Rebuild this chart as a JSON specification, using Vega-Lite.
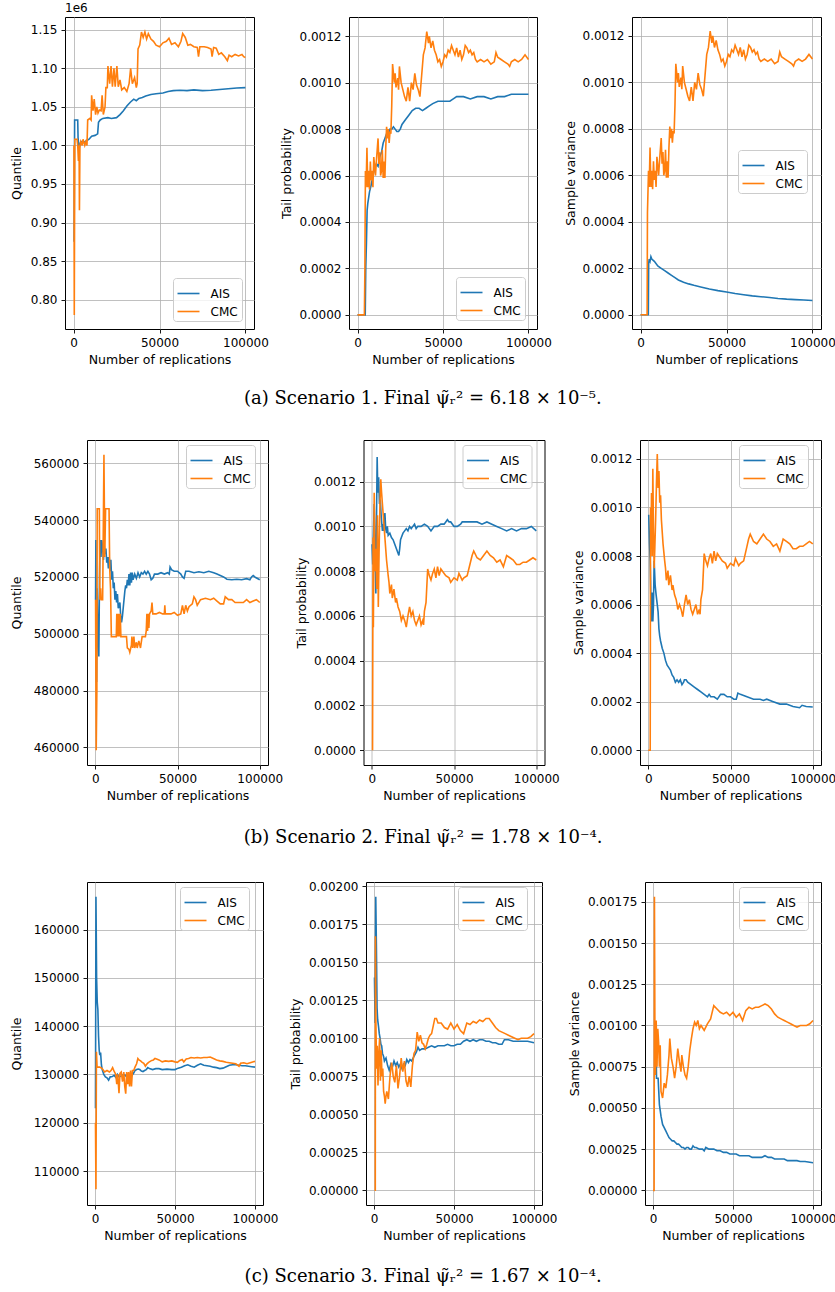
{
  "$schema": "https://vega.github.io/schema/vega-lite/v6.json",
  "background": "white",
  "padding": {"left": 10, "top": 1, "right": 0, "bottom": 2},
  "datasets": {
    "r1q": [
      {"m":"AIS","n":300,"v":875000},{"m":"AIS","n":600,"v":1033000},{"m":"AIS","n":2400,"v":1033000},{"m":"AIS","n":2600,"v":1010000},{"m":"AIS","n":3000,"v":1000000},{"m":"AIS","n":3400,"v":998000},{"m":"AIS","n":4200,"v":1005000},{"m":"AIS","n":6000,"v":1004000},{"m":"AIS","n":7500,"v":1006000},{"m":"AIS","n":9000,"v":1008000},{"m":"AIS","n":10500,"v":1012000},{"m":"AIS","n":12500,"v":1013000},{"m":"AIS","n":14000,"v":1015000},{"m":"AIS","n":14500,"v":1030000},{"m":"AIS","n":15500,"v":1033000},{"m":"AIS","n":17000,"v":1035000},{"m":"AIS","n":20000,"v":1036000},{"m":"AIS","n":22000,"v":1035000},{"m":"AIS","n":25000,"v":1036000},{"m":"AIS","n":27000,"v":1040000},{"m":"AIS","n":29000,"v":1045000},{"m":"AIS","n":31000,"v":1051000},{"m":"AIS","n":33000,"v":1056000},{"m":"AIS","n":35000,"v":1060000},{"m":"AIS","n":36500,"v":1058000},{"m":"AIS","n":38000,"v":1061000},{"m":"AIS","n":40000,"v":1062000},{"m":"AIS","n":42000,"v":1064000},{"m":"AIS","n":45000,"v":1066000},{"m":"AIS","n":48000,"v":1067000},{"m":"AIS","n":52000,"v":1068000},{"m":"AIS","n":55000,"v":1070000},{"m":"AIS","n":58000,"v":1071000},{"m":"AIS","n":62000,"v":1071500},{"m":"AIS","n":66000,"v":1071000},{"m":"AIS","n":70000,"v":1072000},{"m":"AIS","n":75000,"v":1071000},{"m":"AIS","n":80000,"v":1071500},{"m":"AIS","n":85000,"v":1072500},{"m":"AIS","n":90000,"v":1073500},{"m":"AIS","n":95000,"v":1074500},{"m":"AIS","n":100000,"v":1075000},
      {"m":"CMC","n":200,"v":1000000},{"m":"CMC","n":400,"v":780000},{"m":"CMC","n":700,"v":1008000},{"m":"CMC","n":2000,"v":1008000},{"m":"CMC","n":2400,"v":1000000},{"m":"CMC","n":2800,"v":980000},{"m":"CMC","n":3200,"v":1000000},{"m":"CMC","n":3400,"v":916000},{"m":"CMC","n":3700,"v":1000000},{"m":"CMC","n":4200,"v":1005000},{"m":"CMC","n":5000,"v":1000000},{"m":"CMC","n":5500,"v":1008000},{"m":"CMC","n":6500,"v":1000000},{"m":"CMC","n":7200,"v":1005000},{"m":"CMC","n":7800,"v":1000000},{"m":"CMC","n":8200,"v":1033000},{"m":"CMC","n":9500,"v":1035000},{"m":"CMC","n":10200,"v":1033000},{"m":"CMC","n":10500,"v":1065000},{"m":"CMC","n":11300,"v":1045000},{"m":"CMC","n":12000,"v":1060000},{"m":"CMC","n":12800,"v":1040000},{"m":"CMC","n":13500,"v":1050000},{"m":"CMC","n":14200,"v":1042000},{"m":"CMC","n":15000,"v":1046000},{"m":"CMC","n":16000,"v":1045000},{"m":"CMC","n":16600,"v":1065000},{"m":"CMC","n":17300,"v":1040000},{"m":"CMC","n":18300,"v":1050000},{"m":"CMC","n":18800,"v":1075000},{"m":"CMC","n":19600,"v":1075000},{"m":"CMC","n":20000,"v":1103000},{"m":"CMC","n":21000,"v":1080000},{"m":"CMC","n":21800,"v":1103000},{"m":"CMC","n":22600,"v":1076000},{"m":"CMC","n":23500,"v":1100000},{"m":"CMC","n":24200,"v":1076000},{"m":"CMC","n":25200,"v":1103000},{"m":"CMC","n":26000,"v":1076000},{"m":"CMC","n":27000,"v":1085000},{"m":"CMC","n":28000,"v":1072000},{"m":"CMC","n":29500,"v":1075000},{"m":"CMC","n":31000,"v":1070000},{"m":"CMC","n":32300,"v":1080000},{"m":"CMC","n":33200,"v":1100000},{"m":"CMC","n":34200,"v":1080000},{"m":"CMC","n":35500,"v":1088000},{"m":"CMC","n":36500,"v":1075000},{"m":"CMC","n":37000,"v":1080000},{"m":"CMC","n":37500,"v":1125000},{"m":"CMC","n":38500,"v":1130000},{"m":"CMC","n":39500,"v":1147000},{"m":"CMC","n":40500,"v":1140000},{"m":"CMC","n":41500,"v":1147000},{"m":"CMC","n":42500,"v":1138000},{"m":"CMC","n":43500,"v":1145000},{"m":"CMC","n":45000,"v":1138000},{"m":"CMC","n":46500,"v":1135000},{"m":"CMC","n":48000,"v":1130000},{"m":"CMC","n":50000,"v":1128000},{"m":"CMC","n":52000,"v":1133000},{"m":"CMC","n":54000,"v":1135000},{"m":"CMC","n":55500,"v":1139000},{"m":"CMC","n":57000,"v":1131000},{"m":"CMC","n":59000,"v":1133000},{"m":"CMC","n":61000,"v":1128000},{"m":"CMC","n":62500,"v":1135000},{"m":"CMC","n":63500,"v":1145000},{"m":"CMC","n":65000,"v":1140000},{"m":"CMC","n":66500,"v":1130000},{"m":"CMC","n":68000,"v":1131000},{"m":"CMC","n":70000,"v":1128000},{"m":"CMC","n":72000,"v":1127000},{"m":"CMC","n":72700,"v":1115000},{"m":"CMC","n":73500,"v":1128000},{"m":"CMC","n":76000,"v":1128000},{"m":"CMC","n":78000,"v":1127000},{"m":"CMC","n":80000,"v":1125000},{"m":"CMC","n":80600,"v":1115000},{"m":"CMC","n":81500,"v":1127000},{"m":"CMC","n":83000,"v":1126000},{"m":"CMC","n":84500,"v":1118000},{"m":"CMC","n":86000,"v":1120000},{"m":"CMC","n":88000,"v":1115000},{"m":"CMC","n":89500,"v":1110000},{"m":"CMC","n":90500,"v":1117000},{"m":"CMC","n":92000,"v":1115000},{"m":"CMC","n":94000,"v":1118000},{"m":"CMC","n":96000,"v":1116000},{"m":"CMC","n":98000,"v":1118000},{"m":"CMC","n":99000,"v":1115000},{"m":"CMC","n":100000,"v":1114000}
    ],
    "r1t": [
      {"m":"AIS","n":0,"v":0},{"m":"AIS","n":4500,"v":0},{"m":"AIS","n":4800,"v":0.0002},{"m":"AIS","n":5200,"v":0.00031},{"m":"AIS","n":5600,"v":0.00045},{"m":"AIS","n":6000,"v":0.00048},{"m":"AIS","n":7000,"v":0.00053},{"m":"AIS","n":8000,"v":0.00056},{"m":"AIS","n":9000,"v":0.0006},{"m":"AIS","n":10000,"v":0.00063},{"m":"AIS","n":11000,"v":0.00065},{"m":"AIS","n":12000,"v":0.00064},{"m":"AIS","n":13000,"v":0.00068},{"m":"AIS","n":14000,"v":0.0007},{"m":"AIS","n":15000,"v":0.00074},{"m":"AIS","n":16000,"v":0.00076},{"m":"AIS","n":17000,"v":0.00078},{"m":"AIS","n":18000,"v":0.00077},{"m":"AIS","n":19000,"v":0.0008},{"m":"AIS","n":20000,"v":0.0008},{"m":"AIS","n":21000,"v":0.00081},{"m":"AIS","n":22000,"v":0.0008},{"m":"AIS","n":23000,"v":0.00079},{"m":"AIS","n":24000,"v":0.00079},{"m":"AIS","n":25000,"v":0.0008},{"m":"AIS","n":26000,"v":0.00082},{"m":"AIS","n":28000,"v":0.00084},{"m":"AIS","n":30000,"v":0.00086},{"m":"AIS","n":32000,"v":0.00088},{"m":"AIS","n":34000,"v":0.00089},{"m":"AIS","n":36000,"v":0.00089},{"m":"AIS","n":38000,"v":0.00088},{"m":"AIS","n":40000,"v":0.00089},{"m":"AIS","n":42000,"v":0.0009},{"m":"AIS","n":44000,"v":0.00091},{"m":"AIS","n":47000,"v":0.00092},{"m":"AIS","n":50000,"v":0.00092},{"m":"AIS","n":54000,"v":0.00092},{"m":"AIS","n":56000,"v":0.00093},{"m":"AIS","n":58000,"v":0.00094},{"m":"AIS","n":62000,"v":0.00094},{"m":"AIS","n":66000,"v":0.00093},{"m":"AIS","n":70000,"v":0.00094},{"m":"AIS","n":74000,"v":0.00094},{"m":"AIS","n":78000,"v":0.00093},{"m":"AIS","n":82000,"v":0.00094},{"m":"AIS","n":86000,"v":0.00094},{"m":"AIS","n":90000,"v":0.00095},{"m":"AIS","n":95000,"v":0.00095},{"m":"AIS","n":100000,"v":0.00095},
      {"m":"CMC","n":0,"v":0},{"m":"CMC","n":4000,"v":0},{"m":"CMC","n":4300,"v":0.0002},{"m":"CMC","n":4600,"v":0.00062},{"m":"CMC","n":5000,"v":0.00055},{"m":"CMC","n":5500,"v":0.00072},{"m":"CMC","n":6000,"v":0.00055},{"m":"CMC","n":6500,"v":0.00062},{"m":"CMC","n":7000,"v":0.00054},{"m":"CMC","n":7500,"v":0.00066},{"m":"CMC","n":8000,"v":0.00058},{"m":"CMC","n":8500,"v":0.00062},{"m":"CMC","n":9000,"v":0.00055},{"m":"CMC","n":9500,"v":0.00068},{"m":"CMC","n":10500,"v":0.0006},{"m":"CMC","n":11000,"v":0.00066},{"m":"CMC","n":12000,"v":0.00076},{"m":"CMC","n":12500,"v":0.00065},{"m":"CMC","n":13000,"v":0.0007},{"m":"CMC","n":13500,"v":0.0006},{"m":"CMC","n":14000,"v":0.00062},{"m":"CMC","n":14500,"v":0.00071},{"m":"CMC","n":15000,"v":0.00059},{"m":"CMC","n":15500,"v":0.00066},{"m":"CMC","n":16000,"v":0.00059},{"m":"CMC","n":16500,"v":0.00072},{"m":"CMC","n":17000,"v":0.00081},{"m":"CMC","n":17500,"v":0.00076},{"m":"CMC","n":18000,"v":0.0008},{"m":"CMC","n":18500,"v":0.00074},{"m":"CMC","n":19000,"v":0.00079},{"m":"CMC","n":19500,"v":0.00078},{"m":"CMC","n":20000,"v":0.0009},{"m":"CMC","n":20500,"v":0.00108},{"m":"CMC","n":21500,"v":0.001},{"m":"CMC","n":22000,"v":0.00104},{"m":"CMC","n":22500,"v":0.00098},{"m":"CMC","n":23500,"v":0.00102},{"m":"CMC","n":24000,"v":0.00097},{"m":"CMC","n":24500,"v":0.00107},{"m":"CMC","n":25500,"v":0.001},{"m":"CMC","n":26500,"v":0.00097},{"m":"CMC","n":27500,"v":0.00094},{"m":"CMC","n":28500,"v":0.00092},{"m":"CMC","n":29500,"v":0.00098},{"m":"CMC","n":30500,"v":0.00092},{"m":"CMC","n":31500,"v":0.001},{"m":"CMC","n":32500,"v":0.00097},{"m":"CMC","n":33500,"v":0.00104},{"m":"CMC","n":34500,"v":0.00099},{"m":"CMC","n":35500,"v":0.00097},{"m":"CMC","n":36500,"v":0.00094},{"m":"CMC","n":37500,"v":0.00103},{"m":"CMC","n":38500,"v":0.00112},{"m":"CMC","n":39500,"v":0.00115},{"m":"CMC","n":40500,"v":0.00122},{"m":"CMC","n":41500,"v":0.00117},{"m":"CMC","n":42000,"v":0.0012},{"m":"CMC","n":43000,"v":0.00115},{"m":"CMC","n":44000,"v":0.00118},{"m":"CMC","n":45000,"v":0.00114},{"m":"CMC","n":46000,"v":0.00112},{"m":"CMC","n":47000,"v":0.00109},{"m":"CMC","n":48000,"v":0.0011},{"m":"CMC","n":49000,"v":0.00107},{"m":"CMC","n":50000,"v":0.00109},{"m":"CMC","n":51000,"v":0.00112},{"m":"CMC","n":52000,"v":0.00111},{"m":"CMC","n":53000,"v":0.00114},{"m":"CMC","n":54000,"v":0.00113},{"m":"CMC","n":55000,"v":0.00116},{"m":"CMC","n":56000,"v":0.00114},{"m":"CMC","n":57000,"v":0.00112},{"m":"CMC","n":58000,"v":0.00115},{"m":"CMC","n":59000,"v":0.00111},{"m":"CMC","n":60000,"v":0.00114},{"m":"CMC","n":61000,"v":0.0011},{"m":"CMC","n":62000,"v":0.00112},{"m":"CMC","n":63000,"v":0.00116},{"m":"CMC","n":64000,"v":0.00115},{"m":"CMC","n":65000,"v":0.00113},{"m":"CMC","n":66000,"v":0.00114},{"m":"CMC","n":67000,"v":0.00112},{"m":"CMC","n":68000,"v":0.00113},{"m":"CMC","n":69000,"v":0.0011},{"m":"CMC","n":70000,"v":0.00109},{"m":"CMC","n":72000,"v":0.0011},{"m":"CMC","n":74000,"v":0.00109},{"m":"CMC","n":76000,"v":0.0011},{"m":"CMC","n":78000,"v":0.00108},{"m":"CMC","n":80000,"v":0.00109},{"m":"CMC","n":81000,"v":0.00113},{"m":"CMC","n":82000,"v":0.00111},{"m":"CMC","n":84000,"v":0.0011},{"m":"CMC","n":86000,"v":0.00109},{"m":"CMC","n":88000,"v":0.00108},{"m":"CMC","n":89000,"v":0.00107},{"m":"CMC","n":90000,"v":0.00109},{"m":"CMC","n":92000,"v":0.0011},{"m":"CMC","n":94000,"v":0.00109},{"m":"CMC","n":96000,"v":0.0011},{"m":"CMC","n":98000,"v":0.00112},{"m":"CMC","n":100000,"v":0.0011}
    ],
    "r1v": [
      {"m":"AIS","n":0,"v":0},{"m":"AIS","n":4500,"v":0},{"m":"AIS","n":4700,"v":0.00022},{"m":"AIS","n":5000,"v":0.00024},{"m":"AIS","n":5500,"v":0.00023},{"m":"AIS","n":6000,"v":0.00025},{"m":"AIS","n":6500,"v":0.00024},{"m":"AIS","n":8000,"v":0.00023},{"m":"AIS","n":10000,"v":0.00021},{"m":"AIS","n":12000,"v":0.0002},{"m":"AIS","n":14000,"v":0.00019},{"m":"AIS","n":16000,"v":0.00018},{"m":"AIS","n":18000,"v":0.00017},{"m":"AIS","n":20000,"v":0.00016},{"m":"AIS","n":22000,"v":0.00015},{"m":"AIS","n":25000,"v":0.00014},{"m":"AIS","n":28000,"v":0.000133},{"m":"AIS","n":31000,"v":0.000127},{"m":"AIS","n":35000,"v":0.00012},{"m":"AIS","n":40000,"v":0.000111},{"m":"AIS","n":45000,"v":0.000104},{"m":"AIS","n":50000,"v":0.0000985},{"m":"AIS","n":55000,"v":0.000092},{"m":"AIS","n":60000,"v":0.0000865},{"m":"AIS","n":65000,"v":0.0000815},{"m":"AIS","n":70000,"v":0.000078},{"m":"AIS","n":75000,"v":0.0000745},{"m":"AIS","n":80000,"v":0.0000705},{"m":"AIS","n":85000,"v":0.0000675},{"m":"AIS","n":90000,"v":0.0000655},{"m":"AIS","n":95000,"v":0.000064},{"m":"AIS","n":100000,"v":0.0000618},
      {"m":"CMC","n":0,"v":0},{"m":"CMC","n":3800,"v":0},{"m":"CMC","n":4000,"v":0.00044},{"m":"CMC","n":4600,"v":0.00062},{"m":"CMC","n":5000,"v":0.00055},{"m":"CMC","n":5500,"v":0.00072},{"m":"CMC","n":6000,"v":0.00055},{"m":"CMC","n":6500,"v":0.00062},{"m":"CMC","n":7000,"v":0.00054},{"m":"CMC","n":7500,"v":0.00066},{"m":"CMC","n":8000,"v":0.00058},{"m":"CMC","n":8500,"v":0.00062},{"m":"CMC","n":9000,"v":0.00055},{"m":"CMC","n":9500,"v":0.00068},{"m":"CMC","n":10500,"v":0.0006},{"m":"CMC","n":11000,"v":0.00066},{"m":"CMC","n":12000,"v":0.00076},{"m":"CMC","n":12500,"v":0.00065},{"m":"CMC","n":13000,"v":0.0007},{"m":"CMC","n":13500,"v":0.0006},{"m":"CMC","n":14000,"v":0.00062},{"m":"CMC","n":14500,"v":0.00071},{"m":"CMC","n":15000,"v":0.00059},{"m":"CMC","n":15500,"v":0.00066},{"m":"CMC","n":16000,"v":0.00059},{"m":"CMC","n":16500,"v":0.00072},{"m":"CMC","n":17000,"v":0.00081},{"m":"CMC","n":17500,"v":0.00076},{"m":"CMC","n":18000,"v":0.0008},{"m":"CMC","n":18500,"v":0.00074},{"m":"CMC","n":19000,"v":0.00079},{"m":"CMC","n":19500,"v":0.00078},{"m":"CMC","n":20000,"v":0.0009},{"m":"CMC","n":20500,"v":0.00108},{"m":"CMC","n":21500,"v":0.001},{"m":"CMC","n":22000,"v":0.00104},{"m":"CMC","n":22500,"v":0.00098},{"m":"CMC","n":23500,"v":0.00102},{"m":"CMC","n":24000,"v":0.00097},{"m":"CMC","n":24500,"v":0.00107},{"m":"CMC","n":25500,"v":0.001},{"m":"CMC","n":26500,"v":0.00097},{"m":"CMC","n":27500,"v":0.00094},{"m":"CMC","n":28500,"v":0.00092},{"m":"CMC","n":29500,"v":0.00098},{"m":"CMC","n":30500,"v":0.00092},{"m":"CMC","n":31500,"v":0.001},{"m":"CMC","n":32500,"v":0.00097},{"m":"CMC","n":33500,"v":0.00104},{"m":"CMC","n":34500,"v":0.00099},{"m":"CMC","n":35500,"v":0.00097},{"m":"CMC","n":36500,"v":0.00094},{"m":"CMC","n":37500,"v":0.00103},{"m":"CMC","n":38500,"v":0.00112},{"m":"CMC","n":39500,"v":0.00115},{"m":"CMC","n":40500,"v":0.00122},{"m":"CMC","n":41500,"v":0.00117},{"m":"CMC","n":42000,"v":0.0012},{"m":"CMC","n":43000,"v":0.00115},{"m":"CMC","n":44000,"v":0.00118},{"m":"CMC","n":45000,"v":0.00114},{"m":"CMC","n":46000,"v":0.00112},{"m":"CMC","n":47000,"v":0.00109},{"m":"CMC","n":48000,"v":0.0011},{"m":"CMC","n":49000,"v":0.00107},{"m":"CMC","n":50000,"v":0.00109},{"m":"CMC","n":51000,"v":0.00112},{"m":"CMC","n":52000,"v":0.00111},{"m":"CMC","n":53000,"v":0.00114},{"m":"CMC","n":54000,"v":0.00113},{"m":"CMC","n":55000,"v":0.00116},{"m":"CMC","n":56000,"v":0.00114},{"m":"CMC","n":57000,"v":0.00112},{"m":"CMC","n":58000,"v":0.00115},{"m":"CMC","n":59000,"v":0.00111},{"m":"CMC","n":60000,"v":0.00114},{"m":"CMC","n":61000,"v":0.0011},{"m":"CMC","n":62000,"v":0.00112},{"m":"CMC","n":63000,"v":0.00116},{"m":"CMC","n":64000,"v":0.00115},{"m":"CMC","n":65000,"v":0.00113},{"m":"CMC","n":66000,"v":0.00114},{"m":"CMC","n":67000,"v":0.00112},{"m":"CMC","n":68000,"v":0.00113},{"m":"CMC","n":69000,"v":0.0011},{"m":"CMC","n":70000,"v":0.00109},{"m":"CMC","n":72000,"v":0.0011},{"m":"CMC","n":74000,"v":0.00109},{"m":"CMC","n":76000,"v":0.0011},{"m":"CMC","n":78000,"v":0.00108},{"m":"CMC","n":80000,"v":0.00109},{"m":"CMC","n":81000,"v":0.00113},{"m":"CMC","n":82000,"v":0.00111},{"m":"CMC","n":84000,"v":0.0011},{"m":"CMC","n":86000,"v":0.00109},{"m":"CMC","n":88000,"v":0.00108},{"m":"CMC","n":89000,"v":0.00107},{"m":"CMC","n":90000,"v":0.00109},{"m":"CMC","n":92000,"v":0.0011},{"m":"CMC","n":94000,"v":0.00109},{"m":"CMC","n":96000,"v":0.0011},{"m":"CMC","n":98000,"v":0.00112},{"m":"CMC","n":100000,"v":0.0011}
    ],
    "r2q": [
      {"m":"AIS","n":200,"v":512000},{"m":"AIS","n":400,"v":533000},{"m":"AIS","n":800,"v":483000},{"m":"AIS","n":1200,"v":516000},{"m":"AIS","n":1600,"v":500000},{"m":"AIS","n":2200,"v":492000},{"m":"AIS","n":2600,"v":520000},{"m":"AIS","n":3000,"v":533000},{"m":"AIS","n":3500,"v":527000},{"m":"AIS","n":4000,"v":533000},{"m":"AIS","n":4500,"v":530000},{"m":"AIS","n":5000,"v":526000},{"m":"AIS","n":5500,"v":531000},{"m":"AIS","n":6000,"v":528000},{"m":"AIS","n":6500,"v":530000},{"m":"AIS","n":7000,"v":525000},{"m":"AIS","n":7500,"v":527000},{"m":"AIS","n":8000,"v":523000},{"m":"AIS","n":8500,"v":527000},{"m":"AIS","n":9000,"v":522000},{"m":"AIS","n":9500,"v":526000},{"m":"AIS","n":10000,"v":519000},{"m":"AIS","n":10500,"v":522000},{"m":"AIS","n":11000,"v":516000},{"m":"AIS","n":11500,"v":518000},{"m":"AIS","n":12000,"v":512000},{"m":"AIS","n":12500,"v":515000},{"m":"AIS","n":13000,"v":511000},{"m":"AIS","n":13500,"v":514000},{"m":"AIS","n":14000,"v":509000},{"m":"AIS","n":15000,"v":511000},{"m":"AIS","n":15500,"v":506000},{"m":"AIS","n":16000,"v":504000},{"m":"AIS","n":16500,"v":506000},{"m":"AIS","n":17000,"v":509000},{"m":"AIS","n":17500,"v":512000},{"m":"AIS","n":18000,"v":515000},{"m":"AIS","n":18500,"v":517000},{"m":"AIS","n":19000,"v":516000},{"m":"AIS","n":19500,"v":519000},{"m":"AIS","n":20000,"v":517000},{"m":"AIS","n":20500,"v":521000},{"m":"AIS","n":21000,"v":517000},{"m":"AIS","n":21500,"v":521500},{"m":"AIS","n":22000,"v":518000},{"m":"AIS","n":22500,"v":521500},{"m":"AIS","n":23000,"v":519000},{"m":"AIS","n":24000,"v":521000},{"m":"AIS","n":25000,"v":519500},{"m":"AIS","n":26000,"v":521500},{"m":"AIS","n":27000,"v":520000},{"m":"AIS","n":28000,"v":521500},{"m":"AIS","n":29000,"v":521000},{"m":"AIS","n":30000,"v":522000},{"m":"AIS","n":31000,"v":521000},{"m":"AIS","n":32000,"v":522000},{"m":"AIS","n":33000,"v":521000},{"m":"AIS","n":34000,"v":519000},{"m":"AIS","n":35000,"v":519500},{"m":"AIS","n":36000,"v":521000},{"m":"AIS","n":38000,"v":521000},{"m":"AIS","n":40000,"v":521500},{"m":"AIS","n":42000,"v":521000},{"m":"AIS","n":44000,"v":521500},{"m":"AIS","n":45000,"v":521000},{"m":"AIS","n":45500,"v":523500},{"m":"AIS","n":46500,"v":522500},{"m":"AIS","n":48000,"v":522000},{"m":"AIS","n":50000,"v":522000},{"m":"AIS","n":52000,"v":521000},{"m":"AIS","n":53000,"v":520000},{"m":"AIS","n":54000,"v":519500},{"m":"AIS","n":55000,"v":522000},{"m":"AIS","n":57000,"v":522000},{"m":"AIS","n":60000,"v":521500},{"m":"AIS","n":63000,"v":521800},{"m":"AIS","n":66000,"v":521500},{"m":"AIS","n":69000,"v":522000},{"m":"AIS","n":72000,"v":521500},{"m":"AIS","n":74000,"v":521000},{"m":"AIS","n":76000,"v":520500},{"m":"AIS","n":78000,"v":520000},{"m":"AIS","n":80000,"v":519200},{"m":"AIS","n":83000,"v":519000},{"m":"AIS","n":86000,"v":519200},{"m":"AIS","n":89000,"v":519000},{"m":"AIS","n":92000,"v":519400},{"m":"AIS","n":94000,"v":519000},{"m":"AIS","n":95000,"v":520000},{"m":"AIS","n":96000,"v":520500},{"m":"AIS","n":97500,"v":519800},{"m":"AIS","n":100000,"v":519000},
      {"m":"CMC","n":200,"v":512000},{"m":"CMC","n":600,"v":459000},{"m":"CMC","n":1000,"v":480000},{"m":"CMC","n":1200,"v":544000},{"m":"CMC","n":2500,"v":544000},{"m":"CMC","n":2800,"v":512000},{"m":"CMC","n":3300,"v":516000},{"m":"CMC","n":3600,"v":512000},{"m":"CMC","n":4500,"v":512000},{"m":"CMC","n":4800,"v":530000},{"m":"CMC","n":5300,"v":563000},{"m":"CMC","n":5800,"v":527000},{"m":"CMC","n":6300,"v":544000},{"m":"CMC","n":8400,"v":544000},{"m":"CMC","n":8800,"v":523000},{"m":"CMC","n":9300,"v":516000},{"m":"CMC","n":9800,"v":499000},{"m":"CMC","n":12800,"v":499000},{"m":"CMC","n":13100,"v":507000},{"m":"CMC","n":13400,"v":499000},{"m":"CMC","n":13700,"v":507000},{"m":"CMC","n":14000,"v":499000},{"m":"CMC","n":14400,"v":507000},{"m":"CMC","n":14800,"v":499000},{"m":"CMC","n":15200,"v":507000},{"m":"CMC","n":15600,"v":499000},{"m":"CMC","n":19000,"v":499000},{"m":"CMC","n":19500,"v":495000},{"m":"CMC","n":20500,"v":494500},{"m":"CMC","n":21000,"v":493500},{"m":"CMC","n":22000,"v":496000},{"m":"CMC","n":22300,"v":499000},{"m":"CMC","n":22800,"v":495000},{"m":"CMC","n":23500,"v":499000},{"m":"CMC","n":24000,"v":495000},{"m":"CMC","n":25000,"v":497000},{"m":"CMC","n":25500,"v":495000},{"m":"CMC","n":26500,"v":497500},{"m":"CMC","n":27500,"v":495000},{"m":"CMC","n":28500,"v":499000},{"m":"CMC","n":30500,"v":499000},{"m":"CMC","n":31000,"v":501000},{"m":"CMC","n":31400,"v":507000},{"m":"CMC","n":31800,"v":501000},{"m":"CMC","n":32200,"v":507000},{"m":"CMC","n":32600,"v":502000},{"m":"CMC","n":33000,"v":507000},{"m":"CMC","n":34000,"v":508000},{"m":"CMC","n":34500,"v":511000},{"m":"CMC","n":35000,"v":507000},{"m":"CMC","n":37000,"v":507000},{"m":"CMC","n":39000,"v":507500},{"m":"CMC","n":41000,"v":507000},{"m":"CMC","n":42000,"v":507000},{"m":"CMC","n":42300,"v":510000},{"m":"CMC","n":42600,"v":507000},{"m":"CMC","n":46000,"v":507000},{"m":"CMC","n":48000,"v":507500},{"m":"CMC","n":50000,"v":506500},{"m":"CMC","n":52000,"v":507000},{"m":"CMC","n":53000,"v":510000},{"m":"CMC","n":54000,"v":507000},{"m":"CMC","n":55000,"v":510000},{"m":"CMC","n":56000,"v":508000},{"m":"CMC","n":57000,"v":509500},{"m":"CMC","n":59000,"v":510500},{"m":"CMC","n":60000,"v":513000},{"m":"CMC","n":61000,"v":512000},{"m":"CMC","n":62000,"v":510000},{"m":"CMC","n":64000,"v":512000},{"m":"CMC","n":67000,"v":512500},{"m":"CMC","n":70000,"v":512000},{"m":"CMC","n":72000,"v":512500},{"m":"CMC","n":74000,"v":511500},{"m":"CMC","n":76000,"v":510500},{"m":"CMC","n":78000,"v":510500},{"m":"CMC","n":79000,"v":513000},{"m":"CMC","n":81000,"v":512000},{"m":"CMC","n":83000,"v":512000},{"m":"CMC","n":85000,"v":511000},{"m":"CMC","n":88000,"v":511000},{"m":"CMC","n":90000,"v":511000},{"m":"CMC","n":92000,"v":512000},{"m":"CMC","n":94000,"v":511000},{"m":"CMC","n":96000,"v":511500},{"m":"CMC","n":98000,"v":512000},{"m":"CMC","n":100000,"v":511000}
    ],
    "r2t": [
      {"m":"AIS","n":200,"v":0.00092},{"m":"AIS","n":600,"v":0.00083},{"m":"AIS","n":1000,"v":0.00096},{"m":"AIS","n":1500,"v":0.0011},{"m":"AIS","n":2000,"v":0.0009},{"m":"AIS","n":2500,"v":0.0007},{"m":"AIS","n":3000,"v":0.0011},{"m":"AIS","n":3300,"v":0.00131},{"m":"AIS","n":3700,"v":0.00115},{"m":"AIS","n":4200,"v":0.00122},{"m":"AIS","n":4700,"v":0.0011},{"m":"AIS","n":5200,"v":0.00112},{"m":"AIS","n":5800,"v":0.00104},{"m":"AIS","n":6500,"v":0.00098},{"m":"AIS","n":7000,"v":0.00101},{"m":"AIS","n":7500,"v":0.00098},{"m":"AIS","n":8000,"v":0.00106},{"m":"AIS","n":8500,"v":0.00099},{"m":"AIS","n":9000,"v":0.00097},{"m":"AIS","n":9500,"v":0.001},{"m":"AIS","n":10000,"v":0.00096},{"m":"AIS","n":11000,"v":0.00097},{"m":"AIS","n":12000,"v":0.00095},{"m":"AIS","n":13000,"v":0.00094},{"m":"AIS","n":14000,"v":0.00092},{"m":"AIS","n":15000,"v":0.0009},{"m":"AIS","n":16000,"v":0.00088},{"m":"AIS","n":16500,"v":0.00087},{"m":"AIS","n":17000,"v":0.0009},{"m":"AIS","n":17500,"v":0.00094},{"m":"AIS","n":18000,"v":0.00095},{"m":"AIS","n":19000,"v":0.00097},{"m":"AIS","n":20000,"v":0.00098},{"m":"AIS","n":21000,"v":0.00099},{"m":"AIS","n":22000,"v":0.00098},{"m":"AIS","n":23000,"v":0.001},{"m":"AIS","n":24000,"v":0.00099},{"m":"AIS","n":25000,"v":0.001},{"m":"AIS","n":26000,"v":0.00101},{"m":"AIS","n":27000,"v":0.00099},{"m":"AIS","n":28000,"v":0.001},{"m":"AIS","n":30000,"v":0.001},{"m":"AIS","n":32000,"v":0.00101},{"m":"AIS","n":34000,"v":0.001},{"m":"AIS","n":36000,"v":0.00098},{"m":"AIS","n":38000,"v":0.001},{"m":"AIS","n":40000,"v":0.001},{"m":"AIS","n":42000,"v":0.00101},{"m":"AIS","n":44000,"v":0.00101},{"m":"AIS","n":45000,"v":0.00102},{"m":"AIS","n":46000,"v":0.00103},{"m":"AIS","n":47000,"v":0.00102},{"m":"AIS","n":48000,"v":0.00102},{"m":"AIS","n":50000,"v":0.001},{"m":"AIS","n":52000,"v":0.001},{"m":"AIS","n":54000,"v":0.00101},{"m":"AIS","n":55000,"v":0.00102},{"m":"AIS","n":58000,"v":0.00102},{"m":"AIS","n":61000,"v":0.00102},{"m":"AIS","n":64000,"v":0.00102},{"m":"AIS","n":67000,"v":0.00101},{"m":"AIS","n":70000,"v":0.00102},{"m":"AIS","n":73000,"v":0.00101},{"m":"AIS","n":76000,"v":0.001},{"m":"AIS","n":79000,"v":0.00099},{"m":"AIS","n":82000,"v":0.00098},{"m":"AIS","n":85000,"v":0.00099},{"m":"AIS","n":88000,"v":0.00098},{"m":"AIS","n":91000,"v":0.00099},{"m":"AIS","n":94000,"v":0.00099},{"m":"AIS","n":97000,"v":0.001},{"m":"AIS","n":100000,"v":0.00098},
      {"m":"CMC","n":500,"v":0},{"m":"CMC","n":800,"v":0.00095},{"m":"CMC","n":1000,"v":0.00055},{"m":"CMC","n":1500,"v":0.00115},{"m":"CMC","n":2000,"v":0.0008},{"m":"CMC","n":2500,"v":0.0009},{"m":"CMC","n":3000,"v":0.00072},{"m":"CMC","n":3500,"v":0.00105},{"m":"CMC","n":4000,"v":0.00064},{"m":"CMC","n":4500,"v":0.0009},{"m":"CMC","n":5000,"v":0.0011},{"m":"CMC","n":5500,"v":0.00121},{"m":"CMC","n":6000,"v":0.00115},{"m":"CMC","n":6500,"v":0.0011},{"m":"CMC","n":7000,"v":0.00105},{"m":"CMC","n":8000,"v":0.00095},{"m":"CMC","n":9000,"v":0.00085},{"m":"CMC","n":10000,"v":0.00078},{"m":"CMC","n":10500,"v":0.00075},{"m":"CMC","n":11000,"v":0.0007},{"m":"CMC","n":12000,"v":0.00074},{"m":"CMC","n":12500,"v":0.00068},{"m":"CMC","n":13500,"v":0.00072},{"m":"CMC","n":14500,"v":0.00066},{"m":"CMC","n":15000,"v":0.00068},{"m":"CMC","n":16000,"v":0.00064},{"m":"CMC","n":17000,"v":0.00062},{"m":"CMC","n":18000,"v":0.00058},{"m":"CMC","n":19000,"v":0.0006},{"m":"CMC","n":20000,"v":0.00058},{"m":"CMC","n":21000,"v":0.00055},{"m":"CMC","n":22000,"v":0.0006},{"m":"CMC","n":23000,"v":0.00064},{"m":"CMC","n":24000,"v":0.0006},{"m":"CMC","n":25000,"v":0.00062},{"m":"CMC","n":26000,"v":0.00058},{"m":"CMC","n":27000,"v":0.00056},{"m":"CMC","n":28000,"v":0.00058},{"m":"CMC","n":29000,"v":0.0006},{"m":"CMC","n":30000,"v":0.00056},{"m":"CMC","n":31000,"v":0.00058},{"m":"CMC","n":31500,"v":0.00056},{"m":"CMC","n":32000,"v":0.00062},{"m":"CMC","n":33000,"v":0.00066},{"m":"CMC","n":34000,"v":0.00081},{"m":"CMC","n":35000,"v":0.00078},{"m":"CMC","n":36000,"v":0.00076},{"m":"CMC","n":37000,"v":0.00079},{"m":"CMC","n":38000,"v":0.00081},{"m":"CMC","n":39000,"v":0.00077},{"m":"CMC","n":40000,"v":0.00082},{"m":"CMC","n":41000,"v":0.00078},{"m":"CMC","n":42000,"v":0.00081},{"m":"CMC","n":43000,"v":0.0008},{"m":"CMC","n":45000,"v":0.00078},{"m":"CMC","n":47000,"v":0.00077},{"m":"CMC","n":48000,"v":0.00075},{"m":"CMC","n":50000,"v":0.00077},{"m":"CMC","n":52000,"v":0.00076},{"m":"CMC","n":53000,"v":0.00079},{"m":"CMC","n":55000,"v":0.00076},{"m":"CMC","n":56000,"v":0.00077},{"m":"CMC","n":58000,"v":0.00078},{"m":"CMC","n":60000,"v":0.00084},{"m":"CMC","n":61000,"v":0.00087},{"m":"CMC","n":62000,"v":0.00089},{"m":"CMC","n":64000,"v":0.00086},{"m":"CMC","n":66000,"v":0.00085},{"m":"CMC","n":68000,"v":0.00087},{"m":"CMC","n":70000,"v":0.00089},{"m":"CMC","n":72000,"v":0.00087},{"m":"CMC","n":74000,"v":0.00086},{"m":"CMC","n":76000,"v":0.00084},{"m":"CMC","n":78000,"v":0.00085},{"m":"CMC","n":80000,"v":0.00082},{"m":"CMC","n":82000,"v":0.00087},{"m":"CMC","n":84000,"v":0.00086},{"m":"CMC","n":86000,"v":0.00085},{"m":"CMC","n":88000,"v":0.00083},{"m":"CMC","n":90000,"v":0.00083},{"m":"CMC","n":92000,"v":0.00084},{"m":"CMC","n":94000,"v":0.00084},{"m":"CMC","n":96000,"v":0.00085},{"m":"CMC","n":98000,"v":0.00086},{"m":"CMC","n":100000,"v":0.00085}
    ],
    "r2v": [
      {"m":"AIS","n":300,"v":0.00097},{"m":"AIS","n":800,"v":0.00085},{"m":"AIS","n":1200,"v":0.00078},{"m":"AIS","n":1600,"v":0.00062},{"m":"AIS","n":2000,"v":0.00053},{"m":"AIS","n":2400,"v":0.00065},{"m":"AIS","n":2800,"v":0.00053},{"m":"AIS","n":3200,"v":0.0006},{"m":"AIS","n":3600,"v":0.00078},{"m":"AIS","n":4200,"v":0.00068},{"m":"AIS","n":4800,"v":0.00064},{"m":"AIS","n":5500,"v":0.0006},{"m":"AIS","n":6000,"v":0.00057},{"m":"AIS","n":6500,"v":0.0005},{"m":"AIS","n":7000,"v":0.00047},{"m":"AIS","n":7500,"v":0.00045},{"m":"AIS","n":8500,"v":0.00042},{"m":"AIS","n":9500,"v":0.0004},{"m":"AIS","n":10500,"v":0.00037},{"m":"AIS","n":11500,"v":0.00035},{"m":"AIS","n":12500,"v":0.00034},{"m":"AIS","n":13500,"v":0.00033},{"m":"AIS","n":14500,"v":0.00031},{"m":"AIS","n":15500,"v":0.0003},{"m":"AIS","n":16500,"v":0.00028},{"m":"AIS","n":17500,"v":0.00029},{"m":"AIS","n":18500,"v":0.00028},{"m":"AIS","n":19500,"v":0.00029},{"m":"AIS","n":20500,"v":0.00027},{"m":"AIS","n":21500,"v":0.00028},{"m":"AIS","n":22000,"v":0.00029},{"m":"AIS","n":23000,"v":0.00029},{"m":"AIS","n":24000,"v":0.00028},{"m":"AIS","n":26000,"v":0.00027},{"m":"AIS","n":28000,"v":0.00026},{"m":"AIS","n":30000,"v":0.00025},{"m":"AIS","n":32000,"v":0.00024},{"m":"AIS","n":34000,"v":0.00023},{"m":"AIS","n":36000,"v":0.00022},{"m":"AIS","n":37000,"v":0.00023},{"m":"AIS","n":38000,"v":0.00022},{"m":"AIS","n":40000,"v":0.00022},{"m":"AIS","n":42000,"v":0.00021},{"m":"AIS","n":44000,"v":0.00023},{"m":"AIS","n":46000,"v":0.00023},{"m":"AIS","n":48000,"v":0.00022},{"m":"AIS","n":50000,"v":0.00022},{"m":"AIS","n":52000,"v":0.00021},{"m":"AIS","n":53500,"v":0.00021},{"m":"AIS","n":54500,"v":0.000235},{"m":"AIS","n":56000,"v":0.00023},{"m":"AIS","n":60000,"v":0.00022},{"m":"AIS","n":64000,"v":0.00021},{"m":"AIS","n":68000,"v":0.00021},{"m":"AIS","n":70000,"v":0.000205},{"m":"AIS","n":72000,"v":0.00021},{"m":"AIS","n":76000,"v":0.0002},{"m":"AIS","n":80000,"v":0.00019},{"m":"AIS","n":84000,"v":0.00019},{"m":"AIS","n":88000,"v":0.00018},{"m":"AIS","n":92000,"v":0.000175},{"m":"AIS","n":93500,"v":0.000185},{"m":"AIS","n":96000,"v":0.00018},{"m":"AIS","n":100000,"v":0.000178},
      {"m":"CMC","n":0,"v":0},{"m":"CMC","n":1200,"v":0},{"m":"CMC","n":1400,"v":0.001},{"m":"CMC","n":1700,"v":0.00085},{"m":"CMC","n":2000,"v":0.00106},{"m":"CMC","n":2400,"v":0.0008},{"m":"CMC","n":2800,"v":0.00116},{"m":"CMC","n":3200,"v":0.0009},{"m":"CMC","n":3600,"v":0.00075},{"m":"CMC","n":4000,"v":0.00083},{"m":"CMC","n":4500,"v":0.00095},{"m":"CMC","n":5000,"v":0.0011},{"m":"CMC","n":5500,"v":0.00122},{"m":"CMC","n":6000,"v":0.00108},{"m":"CMC","n":6500,"v":0.00115},{"m":"CMC","n":7000,"v":0.00102},{"m":"CMC","n":7500,"v":0.00105},{"m":"CMC","n":8000,"v":0.00095},{"m":"CMC","n":9000,"v":0.00085},{"m":"CMC","n":10000,"v":0.00078},{"m":"CMC","n":10500,"v":0.00075},{"m":"CMC","n":11000,"v":0.0007},{"m":"CMC","n":12000,"v":0.00074},{"m":"CMC","n":12500,"v":0.00068},{"m":"CMC","n":13500,"v":0.00072},{"m":"CMC","n":14500,"v":0.00066},{"m":"CMC","n":15000,"v":0.00068},{"m":"CMC","n":16000,"v":0.00064},{"m":"CMC","n":17000,"v":0.00062},{"m":"CMC","n":18000,"v":0.00058},{"m":"CMC","n":19000,"v":0.0006},{"m":"CMC","n":20000,"v":0.00058},{"m":"CMC","n":21000,"v":0.00055},{"m":"CMC","n":22000,"v":0.0006},{"m":"CMC","n":23000,"v":0.00064},{"m":"CMC","n":24000,"v":0.0006},{"m":"CMC","n":25000,"v":0.00062},{"m":"CMC","n":26000,"v":0.00058},{"m":"CMC","n":27000,"v":0.00056},{"m":"CMC","n":28000,"v":0.00058},{"m":"CMC","n":29000,"v":0.0006},{"m":"CMC","n":30000,"v":0.00056},{"m":"CMC","n":31000,"v":0.00058},{"m":"CMC","n":31500,"v":0.00056},{"m":"CMC","n":32000,"v":0.00062},{"m":"CMC","n":33000,"v":0.00066},{"m":"CMC","n":34000,"v":0.00081},{"m":"CMC","n":35000,"v":0.00078},{"m":"CMC","n":36000,"v":0.00076},{"m":"CMC","n":37000,"v":0.00079},{"m":"CMC","n":38000,"v":0.00081},{"m":"CMC","n":39000,"v":0.00077},{"m":"CMC","n":40000,"v":0.00082},{"m":"CMC","n":41000,"v":0.00078},{"m":"CMC","n":42000,"v":0.00081},{"m":"CMC","n":43000,"v":0.0008},{"m":"CMC","n":45000,"v":0.00078},{"m":"CMC","n":47000,"v":0.00077},{"m":"CMC","n":48000,"v":0.00075},{"m":"CMC","n":50000,"v":0.00077},{"m":"CMC","n":52000,"v":0.00076},{"m":"CMC","n":53000,"v":0.00079},{"m":"CMC","n":55000,"v":0.00076},{"m":"CMC","n":56000,"v":0.00077},{"m":"CMC","n":58000,"v":0.00078},{"m":"CMC","n":60000,"v":0.00084},{"m":"CMC","n":61000,"v":0.00087},{"m":"CMC","n":62000,"v":0.00089},{"m":"CMC","n":64000,"v":0.00086},{"m":"CMC","n":66000,"v":0.00085},{"m":"CMC","n":68000,"v":0.00087},{"m":"CMC","n":70000,"v":0.00089},{"m":"CMC","n":72000,"v":0.00087},{"m":"CMC","n":74000,"v":0.00086},{"m":"CMC","n":76000,"v":0.00084},{"m":"CMC","n":78000,"v":0.00085},{"m":"CMC","n":80000,"v":0.00082},{"m":"CMC","n":82000,"v":0.00087},{"m":"CMC","n":84000,"v":0.00086},{"m":"CMC","n":86000,"v":0.00085},{"m":"CMC","n":88000,"v":0.00083},{"m":"CMC","n":90000,"v":0.00083},{"m":"CMC","n":92000,"v":0.00084},{"m":"CMC","n":94000,"v":0.00084},{"m":"CMC","n":96000,"v":0.00085},{"m":"CMC","n":98000,"v":0.00086},{"m":"CMC","n":100000,"v":0.00085}
    ],
    "r3q": [
      {"m":"AIS","n":300,"v":123000},{"m":"AIS","n":600,"v":166800},{"m":"AIS","n":1000,"v":150000},{"m":"AIS","n":1400,"v":145000},{"m":"AIS","n":1800,"v":143400},{"m":"AIS","n":2200,"v":138000},{"m":"AIS","n":2600,"v":135100},{"m":"AIS","n":3000,"v":134000},{"m":"AIS","n":3500,"v":134500},{"m":"AIS","n":4000,"v":132000},{"m":"AIS","n":4500,"v":131000},{"m":"AIS","n":5500,"v":130000},{"m":"AIS","n":6500,"v":129500},{"m":"AIS","n":7500,"v":129300},{"m":"AIS","n":8500,"v":128800},{"m":"AIS","n":9500,"v":129500},{"m":"AIS","n":10500,"v":129500},{"m":"AIS","n":12000,"v":129800},{"m":"AIS","n":13000,"v":129400},{"m":"AIS","n":14000,"v":130000},{"m":"AIS","n":15000,"v":129500},{"m":"AIS","n":16000,"v":129600},{"m":"AIS","n":17000,"v":129800},{"m":"AIS","n":18000,"v":130000},{"m":"AIS","n":19000,"v":129700},{"m":"AIS","n":20000,"v":130000},{"m":"AIS","n":21000,"v":129200},{"m":"AIS","n":22000,"v":129000},{"m":"AIS","n":23000,"v":129800},{"m":"AIS","n":24000,"v":130200},{"m":"AIS","n":25000,"v":130800},{"m":"AIS","n":26000,"v":131000},{"m":"AIS","n":27000,"v":131100},{"m":"AIS","n":28000,"v":131000},{"m":"AIS","n":29000,"v":130700},{"m":"AIS","n":30000,"v":130600},{"m":"AIS","n":31000,"v":130800},{"m":"AIS","n":32000,"v":131000},{"m":"AIS","n":33000,"v":131400},{"m":"AIS","n":34000,"v":131200},{"m":"AIS","n":36000,"v":131000},{"m":"AIS","n":38000,"v":131200},{"m":"AIS","n":40000,"v":131200},{"m":"AIS","n":42000,"v":131000},{"m":"AIS","n":45000,"v":131100},{"m":"AIS","n":48000,"v":131000},{"m":"AIS","n":50000,"v":131000},{"m":"AIS","n":52000,"v":131300},{"m":"AIS","n":54000,"v":131500},{"m":"AIS","n":56000,"v":131800},{"m":"AIS","n":58000,"v":132000},{"m":"AIS","n":60000,"v":131700},{"m":"AIS","n":62000,"v":131500},{"m":"AIS","n":64000,"v":131900},{"m":"AIS","n":66000,"v":132200},{"m":"AIS","n":68000,"v":131900},{"m":"AIS","n":70000,"v":131800},{"m":"AIS","n":72000,"v":131700},{"m":"AIS","n":74000,"v":131500},{"m":"AIS","n":76000,"v":131400},{"m":"AIS","n":78000,"v":131200},{"m":"AIS","n":80000,"v":131300},{"m":"AIS","n":82000,"v":131600},{"m":"AIS","n":84000,"v":131900},{"m":"AIS","n":86000,"v":132000},{"m":"AIS","n":88000,"v":132000},{"m":"AIS","n":90000,"v":131900},{"m":"AIS","n":92000,"v":131800},{"m":"AIS","n":94000,"v":131800},{"m":"AIS","n":96000,"v":131700},{"m":"AIS","n":98000,"v":131600},{"m":"AIS","n":100000,"v":131500},
      {"m":"CMC","n":300,"v":120000},{"m":"CMC","n":600,"v":106200},{"m":"CMC","n":900,"v":134700},{"m":"CMC","n":1300,"v":131500},{"m":"CMC","n":3000,"v":131500},{"m":"CMC","n":4500,"v":131200},{"m":"CMC","n":6000,"v":130500},{"m":"CMC","n":7500,"v":130800},{"m":"CMC","n":9000,"v":130500},{"m":"CMC","n":10000,"v":130800},{"m":"CMC","n":11000,"v":131400},{"m":"CMC","n":12000,"v":130600},{"m":"CMC","n":13000,"v":130000},{"m":"CMC","n":13600,"v":128000},{"m":"CMC","n":14200,"v":130000},{"m":"CMC","n":15000,"v":126100},{"m":"CMC","n":15600,"v":130200},{"m":"CMC","n":16400,"v":130500},{"m":"CMC","n":17200,"v":128500},{"m":"CMC","n":18000,"v":130500},{"m":"CMC","n":18600,"v":127500},{"m":"CMC","n":19200,"v":126000},{"m":"CMC","n":19800,"v":130500},{"m":"CMC","n":20400,"v":128000},{"m":"CMC","n":21000,"v":130500},{"m":"CMC","n":21600,"v":127500},{"m":"CMC","n":22200,"v":130800},{"m":"CMC","n":22800,"v":127500},{"m":"CMC","n":23400,"v":130800},{"m":"CMC","n":24200,"v":130800},{"m":"CMC","n":25000,"v":131500},{"m":"CMC","n":26000,"v":132200},{"m":"CMC","n":26800,"v":133300},{"m":"CMC","n":27500,"v":133000},{"m":"CMC","n":28500,"v":132800},{"m":"CMC","n":29500,"v":132500},{"m":"CMC","n":30500,"v":132300},{"m":"CMC","n":31500,"v":131700},{"m":"CMC","n":32500,"v":132200},{"m":"CMC","n":33500,"v":132500},{"m":"CMC","n":34500,"v":132700},{"m":"CMC","n":35500,"v":132900},{"m":"CMC","n":36500,"v":133000},{"m":"CMC","n":37500,"v":133300},{"m":"CMC","n":38500,"v":133200},{"m":"CMC","n":40000,"v":133000},{"m":"CMC","n":42000,"v":132600},{"m":"CMC","n":44000,"v":132800},{"m":"CMC","n":46000,"v":132700},{"m":"CMC","n":48000,"v":132800},{"m":"CMC","n":50000,"v":132600},{"m":"CMC","n":51500,"v":132500},{"m":"CMC","n":53000,"v":132900},{"m":"CMC","n":54500,"v":133100},{"m":"CMC","n":55500,"v":132600},{"m":"CMC","n":57000,"v":133200},{"m":"CMC","n":58500,"v":133300},{"m":"CMC","n":60000,"v":133500},{"m":"CMC","n":62000,"v":133400},{"m":"CMC","n":64000,"v":133500},{"m":"CMC","n":66000,"v":133400},{"m":"CMC","n":68000,"v":133500},{"m":"CMC","n":70000,"v":133500},{"m":"CMC","n":72000,"v":133600},{"m":"CMC","n":74000,"v":133300},{"m":"CMC","n":76000,"v":133000},{"m":"CMC","n":78000,"v":132800},{"m":"CMC","n":80000,"v":132700},{"m":"CMC","n":82000,"v":132500},{"m":"CMC","n":84000,"v":132400},{"m":"CMC","n":86000,"v":132300},{"m":"CMC","n":88000,"v":132200},{"m":"CMC","n":90000,"v":131700},{"m":"CMC","n":91000,"v":132300},{"m":"CMC","n":93000,"v":132400},{"m":"CMC","n":95000,"v":132200},{"m":"CMC","n":97000,"v":132400},{"m":"CMC","n":99000,"v":132600},{"m":"CMC","n":100000,"v":132700}
    ],
    "r3t": [
      {"m":"AIS","n":300,"v":0.0014},{"m":"AIS","n":700,"v":0.0011},{"m":"AIS","n":1100,"v":0.00193},{"m":"AIS","n":1500,"v":0.0016},{"m":"AIS","n":1900,"v":0.0012},{"m":"AIS","n":2300,"v":0.00112},{"m":"AIS","n":2800,"v":0.00108},{"m":"AIS","n":3300,"v":0.00103},{"m":"AIS","n":3800,"v":0.001},{"m":"AIS","n":4300,"v":0.00096},{"m":"AIS","n":4800,"v":0.00095},{"m":"AIS","n":5300,"v":0.0009},{"m":"AIS","n":6000,"v":0.00088},{"m":"AIS","n":6500,"v":0.00085},{"m":"AIS","n":7500,"v":0.00087},{"m":"AIS","n":8500,"v":0.00082},{"m":"AIS","n":9500,"v":0.00079},{"m":"AIS","n":10500,"v":0.00083},{"m":"AIS","n":11500,"v":0.00081},{"m":"AIS","n":12500,"v":0.00085},{"m":"AIS","n":13500,"v":0.00082},{"m":"AIS","n":14500,"v":0.00084},{"m":"AIS","n":15500,"v":0.00081},{"m":"AIS","n":16500,"v":0.00083},{"m":"AIS","n":17500,"v":0.0008},{"m":"AIS","n":18500,"v":0.00083},{"m":"AIS","n":19500,"v":0.00082},{"m":"AIS","n":20500,"v":0.00086},{"m":"AIS","n":21500,"v":0.00084},{"m":"AIS","n":22500,"v":0.00086},{"m":"AIS","n":23500,"v":0.00085},{"m":"AIS","n":24500,"v":0.00087},{"m":"AIS","n":25500,"v":0.00089},{"m":"AIS","n":26500,"v":0.00091},{"m":"AIS","n":27500,"v":0.00094},{"m":"AIS","n":28500,"v":0.00092},{"m":"AIS","n":30000,"v":0.00093},{"m":"AIS","n":32000,"v":0.00093},{"m":"AIS","n":34000,"v":0.00094},{"m":"AIS","n":36000,"v":0.00095},{"m":"AIS","n":38000,"v":0.00094},{"m":"AIS","n":40000,"v":0.00095},{"m":"AIS","n":42000,"v":0.00095},{"m":"AIS","n":44000,"v":0.00095},{"m":"AIS","n":46000,"v":0.00096},{"m":"AIS","n":48000,"v":0.00095},{"m":"AIS","n":50000,"v":0.00095},{"m":"AIS","n":52000,"v":0.00096},{"m":"AIS","n":54000,"v":0.00096},{"m":"AIS","n":56000,"v":0.00098},{"m":"AIS","n":58000,"v":0.00099},{"m":"AIS","n":60000,"v":0.00098},{"m":"AIS","n":62000,"v":0.00099},{"m":"AIS","n":64000,"v":0.00098},{"m":"AIS","n":66000,"v":0.00099},{"m":"AIS","n":68000,"v":0.00099},{"m":"AIS","n":70000,"v":0.00098},{"m":"AIS","n":72000,"v":0.00098},{"m":"AIS","n":74000,"v":0.00097},{"m":"AIS","n":76000,"v":0.00097},{"m":"AIS","n":78000,"v":0.00096},{"m":"AIS","n":80000,"v":0.00096},{"m":"AIS","n":81500,"v":0.00099},{"m":"AIS","n":84000,"v":0.00099},{"m":"AIS","n":87000,"v":0.00098},{"m":"AIS","n":90000,"v":0.00098},{"m":"AIS","n":93000,"v":0.00098},{"m":"AIS","n":96000,"v":0.00098},{"m":"AIS","n":100000,"v":0.00097},
      {"m":"CMC","n":300,"v":0},{"m":"CMC","n":800,"v":0},{"m":"CMC","n":900,"v":0.00167},{"m":"CMC","n":1200,"v":0.0011},{"m":"CMC","n":1600,"v":0.0008},{"m":"CMC","n":2000,"v":0.00095},{"m":"CMC","n":2500,"v":0.00069},{"m":"CMC","n":3000,"v":0.0009},{"m":"CMC","n":3500,"v":0.001},{"m":"CMC","n":4000,"v":0.00072},{"m":"CMC","n":4500,"v":0.00092},{"m":"CMC","n":5000,"v":0.00075},{"m":"CMC","n":5500,"v":0.0008},{"m":"CMC","n":6000,"v":0.00065},{"m":"CMC","n":6500,"v":0.00062},{"m":"CMC","n":7000,"v":0.00057},{"m":"CMC","n":7500,"v":0.00062},{"m":"CMC","n":8000,"v":0.00065},{"m":"CMC","n":9000,"v":0.0006},{"m":"CMC","n":10000,"v":0.00075},{"m":"CMC","n":11000,"v":0.00084},{"m":"CMC","n":11500,"v":0.0008},{"m":"CMC","n":12000,"v":0.00075},{"m":"CMC","n":13000,"v":0.00071},{"m":"CMC","n":14000,"v":0.00082},{"m":"CMC","n":15000,"v":0.00067},{"m":"CMC","n":16000,"v":0.00075},{"m":"CMC","n":17000,"v":0.00087},{"m":"CMC","n":18000,"v":0.00078},{"m":"CMC","n":19000,"v":0.00085},{"m":"CMC","n":20000,"v":0.00072},{"m":"CMC","n":21000,"v":0.00068},{"m":"CMC","n":22000,"v":0.00075},{"m":"CMC","n":23000,"v":0.00068},{"m":"CMC","n":24000,"v":0.00082},{"m":"CMC","n":25000,"v":0.0009},{"m":"CMC","n":26000,"v":0.00092},{"m":"CMC","n":26500,"v":0.00098},{"m":"CMC","n":27000,"v":0.00104},{"m":"CMC","n":28000,"v":0.00098},{"m":"CMC","n":29000,"v":0.00102},{"m":"CMC","n":30000,"v":0.00097},{"m":"CMC","n":31000,"v":0.00096},{"m":"CMC","n":32000,"v":0.00093},{"m":"CMC","n":33000,"v":0.00096},{"m":"CMC","n":34000,"v":0.001},{"m":"CMC","n":35000,"v":0.00102},{"m":"CMC","n":36000,"v":0.00103},{"m":"CMC","n":37000,"v":0.00108},{"m":"CMC","n":38000,"v":0.00113},{"m":"CMC","n":39000,"v":0.00113},{"m":"CMC","n":40000,"v":0.0011},{"m":"CMC","n":42000,"v":0.0011},{"m":"CMC","n":44000,"v":0.00107},{"m":"CMC","n":46000,"v":0.00106},{"m":"CMC","n":48000,"v":0.0011},{"m":"CMC","n":50000,"v":0.00106},{"m":"CMC","n":52000,"v":0.00109},{"m":"CMC","n":54000,"v":0.00105},{"m":"CMC","n":56000,"v":0.00103},{"m":"CMC","n":58000,"v":0.0011},{"m":"CMC","n":60000,"v":0.00109},{"m":"CMC","n":62000,"v":0.00111},{"m":"CMC","n":64000,"v":0.0011},{"m":"CMC","n":66000,"v":0.00112},{"m":"CMC","n":68000,"v":0.00111},{"m":"CMC","n":70000,"v":0.00113},{"m":"CMC","n":72000,"v":0.00113},{"m":"CMC","n":74000,"v":0.0011},{"m":"CMC","n":76000,"v":0.00107},{"m":"CMC","n":78000,"v":0.00105},{"m":"CMC","n":80000,"v":0.00104},{"m":"CMC","n":82000,"v":0.00103},{"m":"CMC","n":84000,"v":0.00102},{"m":"CMC","n":86000,"v":0.00101},{"m":"CMC","n":88000,"v":0.001},{"m":"CMC","n":90000,"v":0.00099},{"m":"CMC","n":92000,"v":0.001},{"m":"CMC","n":94000,"v":0.001},{"m":"CMC","n":96000,"v":0.001},{"m":"CMC","n":98000,"v":0.00101},{"m":"CMC","n":100000,"v":0.00103}
    ],
    "r3v": [
      {"m":"AIS","n":1800,"v":0.00095},{"m":"AIS","n":2200,"v":0.00068},{"m":"AIS","n":3200,"v":0.00068},{"m":"AIS","n":4000,"v":0.00052},{"m":"AIS","n":5000,"v":0.00045},{"m":"AIS","n":6000,"v":0.0004},{"m":"AIS","n":7000,"v":0.00038},{"m":"AIS","n":8000,"v":0.00036},{"m":"AIS","n":9000,"v":0.00034},{"m":"AIS","n":10000,"v":0.00032},{"m":"AIS","n":11000,"v":0.00031},{"m":"AIS","n":12000,"v":0.0003},{"m":"AIS","n":13000,"v":0.0003},{"m":"AIS","n":14000,"v":0.00029},{"m":"AIS","n":15000,"v":0.00028},{"m":"AIS","n":16000,"v":0.00028},{"m":"AIS","n":17000,"v":0.00027},{"m":"AIS","n":18000,"v":0.00026},{"m":"AIS","n":19000,"v":0.00026},{"m":"AIS","n":20000,"v":0.00025},{"m":"AIS","n":21000,"v":0.00026},{"m":"AIS","n":22000,"v":0.00026},{"m":"AIS","n":23000,"v":0.00025},{"m":"AIS","n":24000,"v":0.00025},{"m":"AIS","n":25000,"v":0.00027},{"m":"AIS","n":26000,"v":0.00026},{"m":"AIS","n":27000,"v":0.00026},{"m":"AIS","n":29000,"v":0.00025},{"m":"AIS","n":31000,"v":0.00025},{"m":"AIS","n":32000,"v":0.00024},{"m":"AIS","n":33000,"v":0.00026},{"m":"AIS","n":35000,"v":0.00025},{"m":"AIS","n":38000,"v":0.00025},{"m":"AIS","n":40000,"v":0.00024},{"m":"AIS","n":42000,"v":0.00024},{"m":"AIS","n":44000,"v":0.00023},{"m":"AIS","n":46000,"v":0.00023},{"m":"AIS","n":48000,"v":0.00022},{"m":"AIS","n":50000,"v":0.00022},{"m":"AIS","n":52000,"v":0.00022},{"m":"AIS","n":54000,"v":0.00021},{"m":"AIS","n":56000,"v":0.00021},{"m":"AIS","n":58000,"v":0.00021},{"m":"AIS","n":60000,"v":0.00021},{"m":"AIS","n":62000,"v":0.0002},{"m":"AIS","n":64000,"v":0.0002},{"m":"AIS","n":66000,"v":0.0002},{"m":"AIS","n":68000,"v":0.0002},{"m":"AIS","n":70000,"v":0.00021},{"m":"AIS","n":72000,"v":0.0002},{"m":"AIS","n":74000,"v":0.0002},{"m":"AIS","n":76000,"v":0.00019},{"m":"AIS","n":78000,"v":0.00019},{"m":"AIS","n":80000,"v":0.00019},{"m":"AIS","n":82000,"v":0.00019},{"m":"AIS","n":84000,"v":0.00018},{"m":"AIS","n":86000,"v":0.00018},{"m":"AIS","n":88000,"v":0.00018},{"m":"AIS","n":90000,"v":0.00018},{"m":"AIS","n":92000,"v":0.000175},{"m":"AIS","n":95000,"v":0.000175},{"m":"AIS","n":98000,"v":0.00017},{"m":"AIS","n":100000,"v":0.000167},
      {"m":"CMC","n":0,"v":0},{"m":"CMC","n":700,"v":0},{"m":"CMC","n":900,"v":0.00178},{"m":"CMC","n":1200,"v":0.00095},{"m":"CMC","n":1500,"v":0.0007},{"m":"CMC","n":2000,"v":0.00103},{"m":"CMC","n":2500,"v":0.00075},{"m":"CMC","n":3000,"v":0.00098},{"m":"CMC","n":3500,"v":0.0009},{"m":"CMC","n":4000,"v":0.00075},{"m":"CMC","n":4500,"v":0.00088},{"m":"CMC","n":5000,"v":0.0006},{"m":"CMC","n":6000,"v":0.00056},{"m":"CMC","n":7000,"v":0.00065},{"m":"CMC","n":8000,"v":0.00062},{"m":"CMC","n":9000,"v":0.0007},{"m":"CMC","n":10000,"v":0.00082},{"m":"CMC","n":10500,"v":0.00092},{"m":"CMC","n":11500,"v":0.0008},{"m":"CMC","n":12500,"v":0.00075},{"m":"CMC","n":13500,"v":0.00068},{"m":"CMC","n":14500,"v":0.00075},{"m":"CMC","n":15500,"v":0.00086},{"m":"CMC","n":16500,"v":0.00078},{"m":"CMC","n":17500,"v":0.00072},{"m":"CMC","n":18000,"v":0.00082},{"m":"CMC","n":19000,"v":0.00075},{"m":"CMC","n":20000,"v":0.0007},{"m":"CMC","n":21000,"v":0.00068},{"m":"CMC","n":22000,"v":0.00075},{"m":"CMC","n":23000,"v":0.00085},{"m":"CMC","n":24000,"v":0.00092},{"m":"CMC","n":25000,"v":0.00098},{"m":"CMC","n":26000,"v":0.00102},{"m":"CMC","n":27000,"v":0.001},{"m":"CMC","n":28000,"v":0.00103},{"m":"CMC","n":29000,"v":0.00098},{"m":"CMC","n":30000,"v":0.001},{"m":"CMC","n":32000,"v":0.00097},{"m":"CMC","n":34000,"v":0.00101},{"m":"CMC","n":36000,"v":0.00104},{"m":"CMC","n":38000,"v":0.00112},{"m":"CMC","n":40000,"v":0.0011},{"m":"CMC","n":42000,"v":0.00108},{"m":"CMC","n":44000,"v":0.00107},{"m":"CMC","n":46000,"v":0.00108},{"m":"CMC","n":48000,"v":0.00106},{"m":"CMC","n":50000,"v":0.00108},{"m":"CMC","n":52000,"v":0.00105},{"m":"CMC","n":54000,"v":0.00107},{"m":"CMC","n":56000,"v":0.00103},{"m":"CMC","n":58000,"v":0.00109},{"m":"CMC","n":60000,"v":0.00111},{"m":"CMC","n":62000,"v":0.0011},{"m":"CMC","n":64000,"v":0.00111},{"m":"CMC","n":66000,"v":0.00111},{"m":"CMC","n":68000,"v":0.00112},{"m":"CMC","n":70000,"v":0.00113},{"m":"CMC","n":72000,"v":0.00112},{"m":"CMC","n":74000,"v":0.0011},{"m":"CMC","n":76000,"v":0.00107},{"m":"CMC","n":78000,"v":0.00105},{"m":"CMC","n":80000,"v":0.00104},{"m":"CMC","n":82000,"v":0.00103},{"m":"CMC","n":84000,"v":0.00102},{"m":"CMC","n":86000,"v":0.00101},{"m":"CMC","n":88000,"v":0.001},{"m":"CMC","n":90000,"v":0.00099},{"m":"CMC","n":92000,"v":0.001},{"m":"CMC","n":94000,"v":0.001},{"m":"CMC","n":96000,"v":0.001},{"m":"CMC","n":98000,"v":0.00101},{"m":"CMC","n":100000,"v":0.00103}
    ]
  },
  "spacing": 31,
  "resolve": {"scale": {"color": "independent"}, "legend": {"color": "independent"}},
  "vconcat": [
    {
      "hconcat": [
        {
          "width": 189, "height": 312,
          "data": {"name": "r1q"},
          "title": {"text": "1e6", "anchor": "start", "frame": "group", "offset": 2, "fontSize": 12, "fontWeight": "normal", "font": "DejaVu Sans", "color": "#000"},
          "mark": {"type": "line", "strokeWidth": 1.6},
          "encoding": {
            "x": {"field": "n", "type": "quantitative", "scale": {"domain": [-5000, 105000], "nice": false, "zero": false}, "axis": {"title": "Number of replications", "values": [0, 50000, 100000], "format": "d"}},
            "y": {"field": "v", "type": "quantitative", "scale": {"domain": [762000, 1166500], "nice": false, "zero": false}, "axis": {"title": "Quantile", "values": [800000, 850000, 900000, 950000, 1000000, 1050000, 1100000, 1150000], "labelExpr": "format(datum.value / 1000000, '.2f')", "minExtent": 39, "maxExtent": 39}},
            "color": {"field": "m", "type": "nominal", "scale": {"domain": ["AIS", "CMC"], "range": ["#1f77b4", "#ff7f0e"]}, "legend": {"title": null, "orient": "none", "legendX": 108, "legendY": 261}}
          }
        },
        {
          "width": 188, "height": 312,
          "data": {"name": "r1t"},
          "mark": {"type": "line", "strokeWidth": 1.6},
          "encoding": {
            "x": {"field": "n", "type": "quantitative", "scale": {"domain": [-5000, 105000], "nice": false, "zero": false}, "axis": {"title": "Number of replications", "values": [0, 50000, 100000], "format": "d"}},
            "y": {"field": "v", "type": "quantitative", "scale": {"domain": [-0.000061, 0.001283], "nice": false, "zero": false}, "axis": {"title": "Tail probability", "values": [0, 0.0002, 0.0004, 0.0006, 0.0008, 0.001, 0.0012], "format": ".4f", "minExtent": 53, "maxExtent": 53}},
            "color": {"field": "m", "type": "nominal", "scale": {"domain": ["AIS", "CMC"], "range": ["#1f77b4", "#ff7f0e"]}, "legend": {"title": null, "orient": "none", "legendX": 107, "legendY": 260}}
          }
        },
        {
          "width": 189, "height": 312,
          "data": {"name": "r1v"},
          "mark": {"type": "line", "strokeWidth": 1.6},
          "encoding": {
            "x": {"field": "n", "type": "quantitative", "scale": {"domain": [-5000, 105000], "nice": false, "zero": false}, "axis": {"title": "Number of replications", "values": [0, 50000, 100000], "format": "d"}},
            "y": {"field": "v", "type": "quantitative", "scale": {"domain": [-0.000061, 0.001281], "nice": false, "zero": false}, "axis": {"title": "Sample variance", "values": [0, 0.0002, 0.0004, 0.0006, 0.0008, 0.001, 0.0012], "format": ".4f", "minExtent": 52, "maxExtent": 52}},
            "color": {"field": "m", "type": "nominal", "scale": {"domain": ["AIS", "CMC"], "range": ["#1f77b4", "#ff7f0e"]}, "legend": {"title": null, "orient": "none", "legendX": 106, "legendY": 133}}
          }
        }
      ],
      "spacing": 95,
      "bounds": "flush",
      "resolve": {"scale": {"color": "independent"}, "legend": {"color": "independent"}},
      "title": {"text": "(a) Scenario 1. Final ψ̃ᵣ² = 6.18 × 10⁻⁵.", "orient": "bottom", "anchor": "middle", "font": "DejaVu Serif", "fontSize": 18, "fontWeight": "normal", "offset": 24, "color": "#000"}
    },
    {
      "spacing": 32,
      "resolve": {"scale": {"color": "independent"}, "legend": {"color": "independent"}},
      "vconcat": [
        {
          "hconcat": [
            {"width": 22, "height": 10, "view": {"stroke": null, "fill": null}, "data": {"values": []}, "mark": "point"},
            {
              "hconcat": [
                {
                  "width": 181, "height": 325,
                  "data": {"name": "r2q"},
                  "mark": {"type": "line", "strokeWidth": 1.6},
                  "encoding": {
                    "x": {"field": "n", "type": "quantitative", "scale": {"domain": [-5000, 105000], "nice": false, "zero": false}, "axis": {"title": "Number of replications", "values": [0, 50000, 100000], "format": "d"}},
                    "y": {"field": "v", "type": "quantitative", "scale": {"domain": [453800, 568200], "nice": false, "zero": false}, "axis": {"title": "Quantile", "values": [460000, 480000, 500000, 520000, 540000, 560000], "format": "d", "minExtent": 61, "maxExtent": 61}},
                    "color": {"field": "m", "type": "nominal", "scale": {"domain": ["AIS", "CMC"], "range": ["#1f77b4", "#ff7f0e"]}, "legend": {"title": null, "orient": "none", "legendX": 99, "legendY": 5}}
                  }
                },
                {
                  "width": 181, "height": 325,
                  "data": {"name": "r2t"},
                  "mark": {"type": "line", "strokeWidth": 1.6},
                  "encoding": {
                    "x": {"field": "n", "type": "quantitative", "scale": {"domain": [-5000, 105000], "nice": false, "zero": false}, "axis": {"title": "Number of replications", "values": [0, 50000, 100000], "format": "d"}},
                    "y": {"field": "v", "type": "quantitative", "scale": {"domain": [-0.000066, 0.001386], "nice": false, "zero": false}, "axis": {"title": "Tail probability", "values": [0, 0.0002, 0.0004, 0.0006, 0.0008, 0.001, 0.0012], "format": ".4f", "minExtent": 53, "maxExtent": 53}},
                    "color": {"field": "m", "type": "nominal", "scale": {"domain": ["AIS", "CMC"], "range": ["#1f77b4", "#ff7f0e"]}, "legend": {"title": null, "orient": "none", "legendX": 99, "legendY": 5}}
                  }
                },
                {
                  "width": 181, "height": 325,
                  "data": {"name": "r2v"},
                  "mark": {"type": "line", "strokeWidth": 1.6},
                  "encoding": {
                    "x": {"field": "n", "type": "quantitative", "scale": {"domain": [-5000, 105000], "nice": false, "zero": false}, "axis": {"title": "Number of replications", "values": [0, 50000, 100000], "format": "d"}},
                    "y": {"field": "v", "type": "quantitative", "scale": {"domain": [-0.000061, 0.001278], "nice": false, "zero": false}, "axis": {"title": "Sample variance", "values": [0, 0.0002, 0.0004, 0.0006, 0.0008, 0.001, 0.0012], "format": ".4f", "minExtent": 52, "maxExtent": 52}},
                    "color": {"field": "m", "type": "nominal", "scale": {"domain": ["AIS", "CMC"], "range": ["#1f77b4", "#ff7f0e"]}, "legend": {"title": null, "orient": "none", "legendX": 99, "legendY": 5}}
                  }
                }
              ],
              "spacing": 95.5,
              "bounds": "flush",
              "resolve": {"scale": {"color": "independent"}, "legend": {"color": "independent"}}
            }
          ],
          "spacing": 0,
          "bounds": "flush",
          "resolve": {"scale": {"color": "independent"}, "legend": {"color": "independent"}},
          "title": {"text": "(b) Scenario 2. Final ψ̃ᵣ² = 1.78 × 10⁻⁴.", "orient": "bottom", "anchor": "middle", "font": "DejaVu Serif", "fontSize": 18, "fontWeight": "normal", "offset": 27, "color": "#000"}
        },
        {
          "hconcat": [
            {"width": 22, "height": 10, "view": {"stroke": null, "fill": null}, "data": {"values": []}, "mark": "point"},
            {
              "hconcat": [
                {
                  "width": 176, "height": 323,
                  "data": {"name": "r3q"},
                  "mark": {"type": "line", "strokeWidth": 1.6},
                  "encoding": {
                    "x": {"field": "n", "type": "quantitative", "scale": {"domain": [-5000, 105000], "nice": false, "zero": false}, "axis": {"title": "Number of replications", "values": [0, 50000, 100000], "format": "d"}},
                    "y": {"field": "v", "type": "quantitative", "scale": {"domain": [102960, 169840], "nice": false, "zero": false}, "axis": {"title": "Quantile", "values": [110000, 120000, 130000, 140000, 150000, 160000], "format": "d", "minExtent": 61, "maxExtent": 61}},
                    "color": {"field": "m", "type": "nominal", "scale": {"domain": ["AIS", "CMC"], "range": ["#1f77b4", "#ff7f0e"]}, "legend": {"title": null, "orient": "none", "legendX": 93, "legendY": 5}}
                  }
                },
                {
                  "width": 176, "height": 323,
                  "data": {"name": "r3t"},
                  "mark": {"type": "line", "strokeWidth": 1.6},
                  "encoding": {
                    "x": {"field": "n", "type": "quantitative", "scale": {"domain": [-5000, 105000], "nice": false, "zero": false}, "axis": {"title": "Number of replications", "values": [0, 50000, 100000], "format": "d"}},
                    "y": {"field": "v", "type": "quantitative", "scale": {"domain": [-0.0000965, 0.002027], "nice": false, "zero": false}, "axis": {"title": "Tail probability", "values": [0, 0.00025, 0.0005, 0.00075, 0.001, 0.00125, 0.0015, 0.00175, 0.002], "format": ".5f", "minExtent": 61, "maxExtent": 61}},
                    "color": {"field": "m", "type": "nominal", "scale": {"domain": ["AIS", "CMC"], "range": ["#1f77b4", "#ff7f0e"]}, "legend": {"title": null, "orient": "none", "legendX": 92, "legendY": 5}}
                  }
                },
                {
                  "width": 176, "height": 323,
                  "data": {"name": "r3v"},
                  "mark": {"type": "line", "strokeWidth": 1.6},
                  "encoding": {
                    "x": {"field": "n", "type": "quantitative", "scale": {"domain": [-5000, 105000], "nice": false, "zero": false}, "axis": {"title": "Number of replications", "values": [0, 50000, 100000], "format": "d"}},
                    "y": {"field": "v", "type": "quantitative", "scale": {"domain": [-0.000089, 0.00187], "nice": false, "zero": false}, "axis": {"title": "Sample variance", "values": [0, 0.00025, 0.0005, 0.00075, 0.001, 0.00125, 0.0015, 0.00175], "format": ".5f", "minExtent": 61, "maxExtent": 61}},
                    "color": {"field": "m", "type": "nominal", "scale": {"domain": ["AIS", "CMC"], "range": ["#1f77b4", "#ff7f0e"]}, "legend": {"title": null, "orient": "none", "legendX": 94, "legendY": 5}}
                  }
                }
              ],
              "spacing": 103,
              "bounds": "flush",
              "resolve": {"scale": {"color": "independent"}, "legend": {"color": "independent"}}
            }
          ],
          "spacing": 0,
          "bounds": "flush",
          "resolve": {"scale": {"color": "independent"}, "legend": {"color": "independent"}},
          "title": {"text": "(c) Scenario 3. Final ψ̃ᵣ² = 1.67 × 10⁻⁴.", "orient": "bottom", "anchor": "middle", "font": "DejaVu Serif", "fontSize": 18, "fontWeight": "normal", "offset": 26, "color": "#000"}
        }
      ]
    }
  ],
  "config": {
    "font": "DejaVu Sans",
    "view": {"stroke": "#000", "strokeWidth": 1},
    "axis": {
      "domain": false, "grid": true, "gridColor": "#b0b0b0", "gridWidth": 0.8,
      "tickColor": "#000", "tickSize": 4, "tickWidth": 0.9,
      "labelFont": "DejaVu Sans", "labelFontSize": 12, "labelColor": "#000", "labelPadding": 4,
      "labelFlush": false, "labelOverlap": false,
      "titleFont": "DejaVu Sans", "titleFontSize": 12.5, "titleFontWeight": "normal", "titleColor": "#000", "titlePadding": 2.5
    },
    "axisX": {"titlePadding": 5},
    "legend": {
      "symbolType": "stroke", "symbolSize": 484, "symbolStrokeWidth": 1.6,
      "labelFont": "DejaVu Sans", "labelFontSize": 12, "labelColor": "#000", "labelOffset": 10,
      "padding": 3.5, "rowPadding": 0, "strokeColor": "#cccccc", "fillColor": "rgba(255,255,255,0.8)", "cornerRadius": 3
    }
  }
}
